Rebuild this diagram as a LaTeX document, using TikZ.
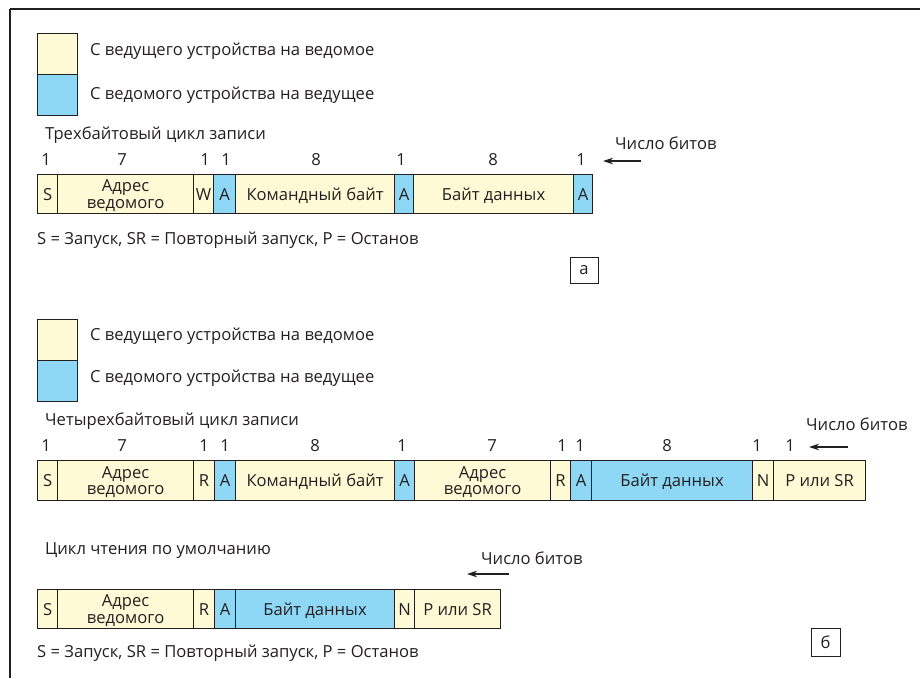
\documentclass[tikz,border=0pt]{standalone}
\usepackage{fontspec}
\setmainfont{Open Sans}
\usetikzlibrary{arrows.meta}
\definecolor{ylw}{RGB}{255,250,214}
\definecolor{blu}{RGB}{142,216,246}
\definecolor{ink}{RGB}{35,31,32}
\begin{document}
\begin{tikzpicture}[x=1pt,y=-1pt,
  txt/.style={text=ink, font=\fontsize{16.6}{16.5}\selectfont, inner sep=0pt},
  cellbox/.style={txt, draw=ink, line width=1.2pt, minimum height=39pt, anchor=north west, align=center, text depth=0pt},
  ycell/.style={cellbox, fill=ylw},
  bcell/.style={cellbox, fill=blu},
  legbox/.style={draw=ink, line width=1.2pt, inner sep=0pt, minimum width=40pt, minimum height=41pt, anchor=north west},
  num/.style={txt},
  tag/.style={txt, draw=ink, line width=0.8pt, minimum width=28pt, minimum height=26pt},
  bitarrow/.style={draw=ink, line width=1.1pt, -{Stealth[length=10pt,width=6.5pt]}}
]
\useasboundingbox (0,0) rectangle (920,678);
\draw[ink, line width=1.6pt] (10,9) -- (920,9);
\draw[ink, line width=1.2pt] (10,9) -- (10,678);

% ---------- part a ----------
\node[legbox, fill=ylw] (la1) at (37,33) {};
\node[legbox, fill=blu] (la2) at (37,74) {};
\node[txt, anchor=west] (lat1) at (90,51) {С ведущего устройства на ведомое};
\node[txt, anchor=west] (lat2) at (90,95) {С ведомого устройства на ведущее};

\node[txt, anchor=west] (ta) at (45,135) {Трехбайтовый цикл записи};

\node[ycell, minimum width=20pt] (a1) at (37,174) {S};
\node[ycell, minimum width=136pt] (a2) at (57,174) {Адрес\\ведомого};
\node[ycell, minimum width=20pt] (a3) at (193,174) {W};
\node[bcell, minimum width=22pt] (a4) at (213,174) {A};
\node[ycell, minimum width=159pt] (a5) at (235,174) {Командный байт};
\node[bcell, minimum width=19pt] (a6) at (394,174) {A};
\node[ycell, minimum width=160pt] (a7) at (413,174) {Байт данных};
\node[bcell, minimum width=19pt] (a8) at (573,174) {A};

\node[num] (na1) at (46,160) {1};
\node[num] (na2) at (122,160) {7};
\node[num] (na3) at (205,160) {1};
\node[num] (na4) at (226,160) {1};
\node[num] (na5) at (316,160) {8};
\node[num] (na6) at (401,160) {1};
\node[num] (na7) at (493,160) {8};
\node[num] (na8) at (581,160) {1};

\node[txt, anchor=west] (cba) at (615,143) {Число битов};
\coordinate (cba1) at (641,161);
\coordinate (cba2) at (603,161);
\draw[bitarrow] (cba1) -- (cba2);

\node[txt, anchor=west] (lega) at (37,240) {S = Запуск, SR = Повторный запуск, P = Останов};
\node[tag] (taga) at (584,270.5) {а};

% ---------- part b ----------
\node[legbox, fill=ylw] (lb1) at (37,319) {};
\node[legbox, fill=blu] (lb2) at (37,360) {};
\node[txt, anchor=west] (lbt1) at (90,336) {С ведущего устройства на ведомое};
\node[txt, anchor=west] (lbt2) at (90,378) {С ведомого устройства на ведущее};

\node[txt, anchor=west] (tb) at (45,421) {Четырехбайтовый цикл записи};

\node[ycell, minimum width=20pt, minimum height=40pt] (b1) at (37,460) {S};
\node[ycell, minimum width=136pt, minimum height=40pt] (b2) at (57,460) {Адрес\\ведомого};
\node[ycell, minimum width=21pt, minimum height=40pt] (b3) at (193,460) {R};
\node[bcell, minimum width=21pt, minimum height=40pt] (b4) at (214,460) {A};
\node[ycell, minimum width=159pt, minimum height=40pt] (b5) at (235,460) {Командный байт};
\node[bcell, minimum width=20pt, minimum height=40pt] (b6) at (394,460) {A};
\node[ycell, minimum width=136pt, minimum height=40pt] (b7) at (414,460) {Адрес\\ведомого};
\node[ycell, minimum width=20pt, minimum height=40pt] (b8) at (550,460) {R};
\node[bcell, minimum width=21pt, minimum height=40pt] (b9) at (570,460) {A};
\node[bcell, minimum width=161pt, minimum height=40pt] (b10) at (591,460) {Байт данных};
\node[ycell, minimum width=21pt, minimum height=40pt] (b11) at (752,460) {N};
\node[ycell, minimum width=92pt, minimum height=40pt] (b12) at (773,460) {P или SR};

\node[num] (nb1) at (46,446) {1};
\node[num] (nb2) at (122,446) {7};
\node[num] (nb3) at (204,446) {1};
\node[num] (nb4) at (225,446) {1};
\node[num] (nb5) at (315,446) {8};
\node[num] (nb6) at (402,446) {1};
\node[num] (nb7) at (492,446) {7};
\node[num] (nb8) at (562,446) {1};
\node[num] (nb9) at (580,446) {1};
\node[num] (nb10) at (667,446) {8};
\node[num] (nb11) at (757,446) {1};
\node[num] (nb12) at (790,446) {1};

\node[txt, anchor=west] (cbb) at (806,424) {Число битов};
\coordinate (cbb1) at (848,447);
\coordinate (cbb2) at (809,447);
\draw[bitarrow] (cbb1) -- (cbb2);

\node[txt, anchor=west] (tc) at (45,551) {Цикл чтения по умолчанию};

\node[ycell, minimum width=20pt] (c1) at (37,589) {S};
\node[ycell, minimum width=136pt] (c2) at (57,589) {Адрес\\ведомого};
\node[ycell, minimum width=21pt] (c3) at (193,589) {R};
\node[bcell, minimum width=21pt] (c4) at (214,589) {A};
\node[bcell, minimum width=159pt] (c5) at (235,589) {Байт данных};
\node[ycell, minimum width=20pt] (c6) at (394,589) {N};
\node[ycell, minimum width=86pt] (c7) at (414,589) {P или SR};

\node[txt, anchor=west] (cbc) at (481,558) {Число битов};
\coordinate (cbc1) at (509,574);
\coordinate (cbc2) at (467,574);
\draw[bitarrow] (cbc1) -- (cbc2);

\node[txt, anchor=west] (legb) at (37,653) {S = Запуск, SR = Повторный запуск, P = Останов};
\node[tag, minimum width=29pt, minimum height=28pt] (tagb) at (825.5,642) {б};
\end{tikzpicture}
\end{document}
